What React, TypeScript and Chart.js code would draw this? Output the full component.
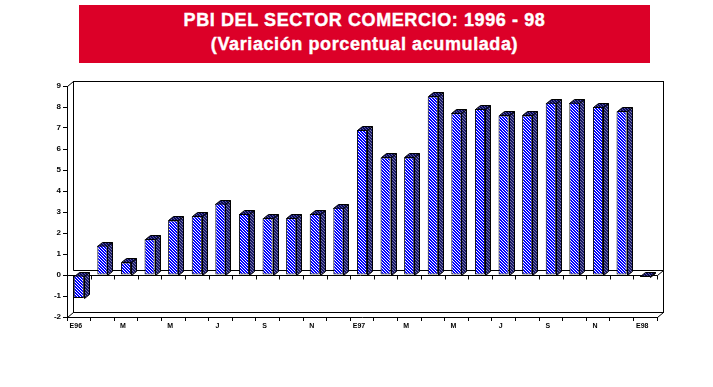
import React, { useEffect, useRef } from "react";
import { Chart, registerables } from "chart.js";

Chart.register(...registerables);

const categories = [
  "Ene-96", "Feb-96", "Mar-96", "Abr-96", "May-96", "Jun-96", "Jul-96", "Ago-96", "Set-96", "Oct-96", "Nov-96", "Dic-96",
  "Ene-97", "Feb-97", "Mar-97", "Abr-97", "May-97", "Jun-97", "Jul-97", "Ago-97", "Set-97", "Oct-97", "Nov-97", "Dic-97",
  "Ene-98",
];

const tickLabels = [
  "E96", "", "M", "", "M", "", "J", "", "S", "", "N", "",
  "E97", "", "M", "", "M", "", "J", "", "S", "", "N", "",
  "E98",
];

const values = [
  -1.1, 1.4, 0.6, 1.7, 2.6, 2.8, 3.4, 2.9, 2.7, 2.7, 2.9, 3.2,
  6.9, 5.6, 5.6, 8.5, 7.7, 7.9, 7.6, 7.6, 8.2, 8.2, 8.0, 7.8,
  -0.1,
];

const titleLine1 = "PBI DEL SECTOR COMERCIO: 1996 - 98";
const titleLine2 = "(Variación porcentual acumulada)";

function makePattern(bg: string, fg: string, size: number): CanvasPattern | string {
  const c = document.createElement("canvas");
  c.width = size;
  c.height = size;
  const g = c.getContext("2d");
  if (!g) return bg;
  g.fillStyle = bg;
  g.fillRect(0, 0, size, size);
  g.fillStyle = fg;
  for (let i = 0; i < size; i++) g.fillRect(i, i, 1, 1);
  const p = g.createPattern(c, "repeat");
  return p || bg;
}

export default function App() {
  const ref = useRef<HTMLCanvasElement | null>(null);

  useEffect(() => {
    const canvas = ref.current;
    if (!canvas) return;
    const front = makePattern("#0000ff", "#ffffff", 3);
    const side = makePattern("#181866", "#7878a8", 3);
    const top = makePattern("#08085a", "#5a5a9c", 3);

    const WDX = 6, WDY = -5; // wall depth
    const BDX = 5, BDY = -4; // bar depth

    const threeD = {
      id: "threeD",
      beforeDatasetsDraw(chart: any) {
        const { ctx, chartArea: a } = chart;
        const y0 = Math.round(chart.scales.y.getPixelForValue(0)) + 0.5;
        const L = Math.round(a.left) + 0.5;
        const R = Math.round(a.right) + 0.5;
        const T = Math.round(a.top) + 0.5;
        const B = Math.round(a.bottom) + 0.5;
        ctx.save();
        ctx.strokeStyle = "#000";
        ctx.lineWidth = 1;
        const seg = (x1: number, y1: number, x2: number, y2: number) => {
          ctx.beginPath();
          ctx.moveTo(x1, y1);
          ctx.lineTo(x2, y2);
          ctx.stroke();
        };
        // back wall
        ctx.strokeRect(L + WDX, T + WDY, R - L, B - T);
        seg(L, T, L + WDX, T + WDY);
        seg(L, B, L + WDX, B + WDY);
        seg(R, B, R + WDX, B + WDY);
        // zero plane
        ctx.fillStyle = "#fff";
        ctx.beginPath();
        ctx.moveTo(L, y0);
        ctx.lineTo(R, y0);
        ctx.lineTo(R + WDX, y0 + WDY);
        ctx.lineTo(L + WDX, y0 + WDY);
        ctx.closePath();
        ctx.fill();
        seg(L - 4, y0, R, y0);
        seg(L + WDX, y0 + WDY, R + WDX, y0 + WDY);
        seg(R, y0, R + WDX, y0 + WDY);
        const n = categories.length;
        const w = (a.right - a.left) / n;
        for (let i = 1; i <= n; i++) {
          const x = Math.round(a.left + i * w) + 0.5;
          seg(x, y0, x, y0 + 4);
        }
        // bar side and top faces
        const meta = chart.getDatasetMeta(0);
        meta.data.forEach((el: any) => {
          const bw = el.width;
          const left = Math.round(el.x - bw / 2) + 0.5;
          const right = Math.round(el.x + bw / 2) + 0.5;
          const t = Math.round(Math.min(el.y, el.base)) + 0.5;
          const b = Math.round(Math.max(el.y, el.base)) + 0.5;
          ctx.fillStyle = side;
          ctx.beginPath();
          ctx.moveTo(right, t);
          ctx.lineTo(right + BDX, t + BDY);
          ctx.lineTo(right + BDX, b + BDY);
          ctx.lineTo(right, b);
          ctx.closePath();
          ctx.fill();
          ctx.stroke();
          ctx.fillStyle = top;
          ctx.beginPath();
          ctx.moveTo(left, t);
          ctx.lineTo(left + BDX, t + BDY);
          ctx.lineTo(right + BDX, t + BDY);
          ctx.lineTo(right, t);
          ctx.closePath();
          ctx.fill();
          ctx.stroke();
        });
        ctx.restore();
      },
    };

    const chart = new Chart(canvas, {
      type: "bar",
      data: {
        labels: categories,
        datasets: [
          {
            data: values,
            backgroundColor: front as any,
            borderColor: "#000",
            borderWidth: 1,
            borderSkipped: false,
            barPercentage: 0.43,
            categoryPercentage: 1,
          },
        ],
      },
      options: {
        responsive: false,
        animation: false,
        devicePixelRatio: 1,
        layout: { padding: { left: 0, right: 56, top: 86, bottom: 40 } },
        plugins: { legend: { display: false }, tooltip: { enabled: false }, title: { display: false } },
        scales: {
          x: {
            offset: true,
            grid: { display: true, drawOnChartArea: false, drawTicks: true, tickLength: 4, color: "#000", offset: true },
            border: { display: true, color: "#000", width: 1 },
            ticks: {
              autoSkip: false,
              maxRotation: 0,
              minRotation: 0,
              padding: 1,
              labelOffset: -3,
              color: "#000",
              font: { family: "Arial, 'Liberation Sans', sans-serif", size: 7, weight: "bold" },
              callback: (_v: any, i: number) => tickLabels[i],
            },
            afterFit: (s: any) => {
              s.height = 30;
            },
          },
          y: {
            min: -2,
            max: 9,
            grid: { display: true, drawOnChartArea: false, drawTicks: true, tickLength: 4, color: "#000" },
            border: { display: true, color: "#000", width: 1 },
            ticks: {
              stepSize: 1,
              padding: 2,
              color: "#000",
              font: { family: "Arial, 'Liberation Sans', sans-serif", size: 8, weight: "bold" },
            },
            afterFit: (s: any) => {
              s.width = 67;
            },
          },
        },
      },
      plugins: [threeD],
    } as any);

    return () => chart.destroy();
  }, []);

  return (
    <div style={{ position: "fixed", left: 0, top: 0, width: 713, height: 387, background: "#fff", overflow: "hidden" }}>
      <div
        style={{
          position: "absolute",
          left: 79,
          top: 5,
          width: 571,
          height: 58,
          background: "#dc0028",
          color: "#fff",
          fontFamily: "Arial, 'Liberation Sans', sans-serif",
          fontWeight: "bold",
          fontSize: 18,
          lineHeight: "24px",
          letterSpacing: "0.6px",
          textAlign: "center",
          paddingTop: 3,
          boxSizing: "border-box",
          WebkitTextStroke: "0.4px #fff",
        }}
      >
        <div>{titleLine1}</div>
        <div>{titleLine2}</div>
      </div>
      <canvas ref={ref} width={713} height={387} style={{ position: "absolute", left: 0, top: 0, width: 713, height: 387 }} />
    </div>
  );
}
